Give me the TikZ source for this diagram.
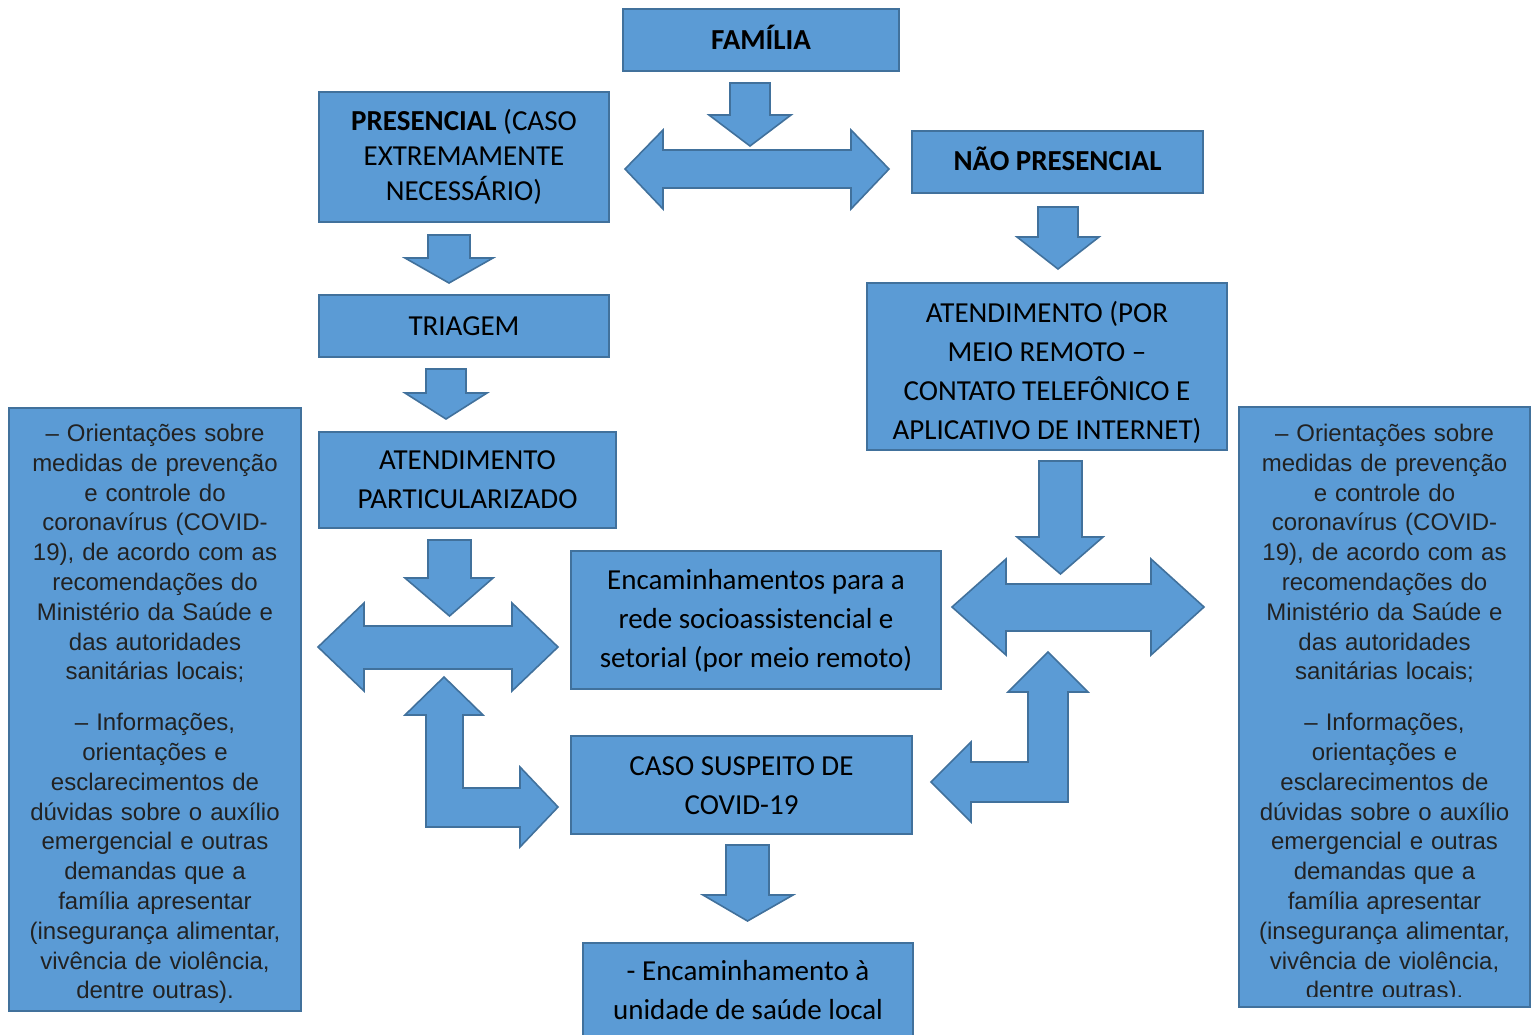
\documentclass[tikz,border=0pt]{standalone}
\usepackage{fontspec}
\setmainfont{Carlito}
\newfontfamily\arialf{Liberation Sans}
\definecolor{bfill}{HTML}{5B9BD5}
\definecolor{bdr}{HTML}{41719C}
\definecolor{stxt}{HTML}{222222}
\newcommand\darr[7]{\draw[arr] (#1,#3) -- (#2,#3) -- (#2,#4) -- (#6,#4) -- ({(#1+#2)/2},#7) -- (#5,#4) -- (#1,#4) -- cycle;}
\newcommand\harr[9]{\draw[arr] (#1,#5) -- (#2,#8) -- (#2,#6) -- (#3,#6) -- (#3,#8) -- (#4,#5) -- (#3,#9) -- (#3,#7) -- (#2,#7) -- (#2,#9) -- cycle;}
\begin{document}
\begin{tikzpicture}[x=1pt,y=-1pt,
  box/.style={draw=bdr,fill=bfill,line width=2pt,inner sep=0pt,align=center,
    font=\fontsize{29}{39}\selectfont},
  btxt/.style={inner sep=0pt,align=center,font=\fontsize{29}{39}\selectfont},
  arr/.style={draw=bdr,fill=bfill,line width=1.6pt,line join=miter},
  side/.style={draw=bdr,fill=bfill,line width=2pt,inner sep=0pt},
  stext/.style={text width=285pt,align=center,inner sep=0pt,text=stxt,
    font=\arialf\fontsize{24}{29.8}\selectfont}]
\useasboundingbox (0,0) rectangle (1532,1034);
\fill[white] (0,0) rectangle (1532,1034);

% central boxes
\node[box,minimum width=276pt,minimum height=62pt] (familia) at (761,40) {};
\node[btxt] (familiatxt) at (761,37) {\textbf{FAMÍLIA}};
\node[box,minimum width=290pt,minimum height=130pt,font=\fontsize{29}{35}\selectfont] (presencial) at (464,157) {\textbf{PRESENCIAL} (CASO\\EXTREMAMENTE\\NECESSÁRIO)};
\node[box,minimum width=291pt,minimum height=62pt] (naopres) at (1057.5,162) {};
\node[btxt] (naoprestxt) at (1057.5,159) {\textbf{NÃO PRESENCIAL}};
\node[box,minimum width=290pt,minimum height=62pt] (triagem) at (464,326) {TRIAGEM};
\node[box,minimum width=297pt,minimum height=96pt] (atpart) at (467.5,480) {ATENDIMENTO\\PARTICULARIZADO};
\node[box,minimum width=370pt,minimum height=138pt] (encam) at (756,620) {};
\node[btxt] (encamtxt) at (756,621) {Encaminhamentos para a\\rede socioassistencial e\\setorial (por meio remoto)};
\node[box,minimum width=341pt,minimum height=98pt] (caso) at (741.5,785) {};
\node[btxt] (casotxt) at (741.5,786) {CASO SUSPEITO DE\\COVID-19};
\node[box,minimum width=330pt,minimum height=120pt,anchor=north] (unidade) at (748,942) {};
\node[btxt,anchor=north] (unidtxt) at (748,960) {- Encaminhamento à\\unidade de saúde local};
\node[box,minimum width=360pt,minimum height=167pt] (remoto) at (1047,366.5) {};
\node[btxt] (remototxt) at (1047,372) {ATENDIMENTO (POR\\MEIO REMOTO –\\CONTATO TELEFÔNICO E\\APLICATIVO DE INTERNET)};

% side boxes
\node[side,minimum width=292pt,minimum height=603pt] (lside) at (155,709.5) {};
\node[side,minimum width=291pt,minimum height=600pt] (rside) at (1384.5,707) {};
\newcommand\sidetext{– Orientações sobre\\medidas de prevenção\\e controle do\\coronavírus (COVID-\\19), de acordo com as\\recomendações do\\Ministério da Saúde e\\das autoridades\\sanitárias locais;\\[21pt]– Informações,\\orientações e\\esclarecimentos de\\dúvidas sobre o auxílio\\emergencial e outras\\demandas que a\\família apresentar\\(insegurança alimentar,\\vivência de violência,\\dentre outras).}
\node[stext,anchor=north] (ltext) at (155,424) {\sidetext};
\begin{scope}
\clip (1240,408) rectangle (1529,996);
\node[stext,anchor=north] (rtext) at (1384.5,424) {\sidetext};
\end{scope}

% down arrows
\darr{730}{770}{83}{115}{709}{791}{146}
\darr{428}{470}{235}{258}{405}{493}{283}
\darr{426}{466}{369}{393}{405}{487}{419}
\darr{428}{471}{540}{578}{405}{493}{616}
\darr{726}{769}{845}{895}{703}{793}{921}
\darr{1038}{1078}{207}{237}{1017}{1099}{269}
\darr{1039}{1082}{461}{537}{1017}{1103}{574}

% double arrows
\harr{625}{663}{851}{889}{169}{150}{188}{130}{209}
\harr{318}{364}{512}{558}{647}{626}{669}{603}{691}
\harr{952}{1006}{1151}{1204}{607}{584}{631}{559}{655}

% L arrows
\draw[arr] (444,677) -- (483,715) -- (463,715) -- (463,788) -- (520,788) -- (520,767) -- (558,807) -- (520,847) -- (520,827) -- (426,827) -- (426,715) -- (405,715) -- cycle;
\draw[arr] (1048,652) -- (1088,692) -- (1068,692) -- (1068,802) -- (971,802) -- (971,822) -- (931,782) -- (971,742) -- (971,762) -- (1028,762) -- (1028,692) -- (1008,692) -- cycle;
\end{tikzpicture}
\end{document}
